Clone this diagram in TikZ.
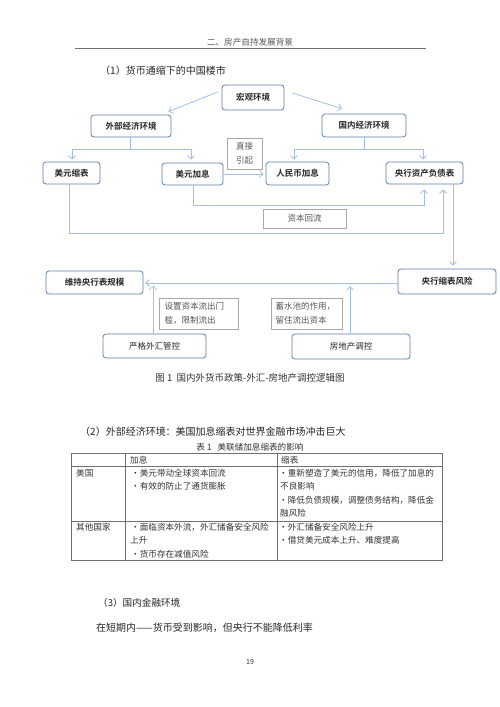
\documentclass[tikz,border=0pt]{standalone}
\usepackage{fontspec}
\setmainfont{Noto Sans CJK SC}[BoldFont={Noto Sans CJK SC Bold}]
\usetikzlibrary{arrows.meta}
\definecolor{boxblue}{HTML}{5B7FA8}
\definecolor{arrblue}{HTML}{A3C0E4}
\definecolor{graybox}{HTML}{A8A8A8}
\definecolor{graytext}{HTML}{555555}
\definecolor{tline}{HTML}{707070}
\tikzset{
  bbox/.style={draw=boxblue, line width=0.8pt, rounded corners=3pt, fill=white,
    inner sep=0pt, font=\fontsize{8.5}{10}\selectfont\bfseries, text=black!85},
  rbox/.style={bbox, font=\fontsize{8.5}{10}\selectfont},
  gbox/.style={draw=graybox, line width=0.7pt, fill=white, inner sep=0pt,
    align=left, text=graytext, font=\fontsize{8.5}{14}\selectfont},
  arr/.style={draw=arrblue, line width=0.8pt, -{Straight Barb[length=3.5pt,width=7pt]}},
  ln/.style={draw=arrblue, line width=0.8pt},
  txt/.style={inner sep=0pt, anchor=base west, text=black!85},
  tcell/.style={inner sep=0pt, anchor=base west, text=black!80, font=\fontsize{8.6}{10}\selectfont},
}
\begin{document}
\begin{tikzpicture}[x=1pt,y=-1pt]
\useasboundingbox[fill=white] (0,0) rectangle (500,707);
% header
\node[inner sep=0pt, text=graytext, font=\fontsize{8.6}{10}\selectfont] (hdr) at (250,42) {二、房产自持发展背景};
\draw[tline, line width=0.8pt] (75,48.3) coordinate (hl) -- (426,48.3) coordinate (hr);
\node[txt, font=\fontsize{10}{12}\selectfont] (s1) at (100,74.5) {（1）货币通缩下的中国楼市};

% boxes
\node[bbox, minimum width=62pt, minimum height=25pt] (macro) at (253,97.5) {宏观环境};
\node[bbox, minimum width=80pt, minimum height=22pt] (ext) at (131,126) {外部经济环境};
\node[bbox, minimum width=84pt, minimum height=23pt] (dom) at (364,125.5) {国内经济环境};
\node[bbox, minimum width=57pt, minimum height=22pt] (mysb) at (71.5,173) {美元缩表};
\node[bbox, minimum width=61pt, minimum height=22pt] (myjx) at (192.5,174) {美元加息};
\node[gbox, minimum width=35pt, minimum height=31pt, align=center] (zjyq) at (244.5,153.5) {直接\\引起};
\node[bbox, minimum width=63pt, minimum height=23pt] (rmb) at (297.5,173.5) {人民币加息};
\node[bbox, minimum width=77pt, minimum height=22pt] (yhzc) at (424.5,173) {央行资产负债表};
\node[gbox, minimum width=83pt, minimum height=19pt, align=center] (zbhl) at (304.5,218.5) {资本回流};
\node[bbox, minimum width=98pt, minimum height=25pt] (yhsb) at (447,281.5) {央行缩表风险};
\node[bbox, minimum width=97pt, minimum height=23pt] (wc) at (94.5,282.5) {维持央行表规模};
\node[rbox, minimum width=103pt, minimum height=24pt] (yg) at (154.5,346) {严格外汇管控};
\node[gbox, minimum width=79pt, minimum height=31pt, text width=68pt] (szzb) at (198.5,313.5) {设置资本流出门\\槛，限制流出};
\node[rbox, minimum width=118pt, minimum height=25pt] (fdc) at (351,346.5) {房地产调控};
\node[gbox, minimum width=71pt, minimum height=31pt, text width=62pt] (xsc) at (306.5,313.5) {蓄水池的作用，\\留住流出资本};

% connectors
\draw[arr] ([xshift=-4pt,yshift=5.5pt]macro.west) -- ([xshift=-3pt,yshift=3pt]ext.north east);
\draw[arr] ([xshift=8pt,yshift=4.5pt]macro.east) -- ([xshift=-22pt,yshift=5pt]dom.north);
\coordinate (ej) at ([xshift=-1pt,yshift=-12pt]ext.south);
\draw[ln] ([xshift=-1pt]ext.south) -- (ej);
\draw[arr] (ej) -| ([xshift=0.5pt,yshift=2pt]mysb.north);
\draw[arr] (ej) -| ([xshift=-1.5pt,yshift=3pt]myjx.north);
\coordinate (dj) at ([yshift=-12pt]dom.south);
\draw[ln] (dom.south) -- (dj);
\draw[arr] (dj) -| ([xshift=-3.5pt,yshift=2pt]rmb.north);
\draw[arr] (dj) -| ([xshift=-1.5pt,yshift=2pt]yhzc.north);
\draw[arr] (myjx.east) -- ([xshift=-2pt]rmb.west |- myjx.east);
\draw[arr] ([xshift=0.5pt]myjx.south) |- (424,205) -- ([xshift=-0.5pt,yshift=-5pt]yhzc.south);
\draw[arr] ([xshift=-2.5pt]mysb.south) |- (443,233) -- ([xshift=18.5pt,yshift=-5pt]yhzc.south);
\draw[arr] ([xshift=28.5pt]yhzc.south) -- ([xshift=6pt,yshift=3pt]yhsb.north);
\draw[arr] ([yshift=-1.5pt]yhsb.west) -- ([xshift=2pt,yshift=-0.5pt]wc.east);
\draw[arr] ([xshift=-1.5pt]yg.north) -- ++(0,-48);
\draw[arr] ([xshift=-1pt]fdc.north) -- ++(0,-47.5);

\node[inner sep=0pt, text=black!80, font=\fontsize{9.5}{11}\selectfont] (cap1) at (250,378) {图 1\ \ 国内外货币政策-外汇-房地产调控逻辑图};

% section 2
\node[txt, font=\fontsize{10}{12}\selectfont] (s2) at (80,435.5) {（2）外部经济环境：美国加息缩表对世界金融市场冲击巨大};
\node[inner sep=0pt, text=black!80, font=\fontsize{8.6}{10}\selectfont] (cap2) at (250,447) {表 1\ \ \ 美联储加息缩表的影响};

% table
\draw[tline, line width=0.7pt] (71,453) coordinate (t1) rectangle (442,560) coordinate (t2);
\draw[tline, line width=0.7pt] (71,466) -- (442,466);
\draw[tline, line width=0.7pt] (71,521) -- (442,521);
\draw[tline, line width=0.7pt] (125,453) -- (125,560);
\draw[tline, line width=0.7pt] (277,453) -- (277,560);
\node[tcell] (h1) at (130,463) {加息};
\node[tcell] (h2) at (281,463) {缩表};
\node[tcell] (r1) at (76,476) {美国};
\node[tcell] (a1) at (131,476) {・美元带动全球资本回流};
\node[tcell] (a2) at (131,489.5) {・有效的防止了通货膨胀};
\node[tcell] (b1) at (279,476) {・重新塑造了美元的信用，降低了加息的};
\node[tcell] (b2) at (280,489.5) {不良影响};
\node[tcell] (b3) at (279,503) {・降低负债规模，调整债务结构，降低金};
\node[tcell] (b4) at (280,516.5) {融风险};
\node[tcell] (r2) at (76,530) {其他国家};
\node[tcell] (c1) at (131,530) {・面临资本外流，外汇储备安全风险};
\node[tcell] (c2) at (130,543.5) {上升};
\node[tcell] (c3) at (131,557) {・货币存在减值风险};
\node[tcell] (d1) at (279,530) {・外汇储备安全风险上升};
\node[tcell] (d2) at (279,543.5) {・借贷美元成本上升、难度提高};

% section 3
\node[txt, font=\fontsize{9.6}{12}\selectfont] (s3) at (98,606.5) {（3）国内金融环境};
\node[txt, font=\fontsize{10}{12}\selectfont] (p1) at (96,631.5) {在短期内——货币受到影响，但央行不能降低利率};
\node[inner sep=0pt, text=black!80, font=\fontsize{7}{8}\selectfont] (pg) at (250,662) {19};
\end{tikzpicture}
\end{document}
